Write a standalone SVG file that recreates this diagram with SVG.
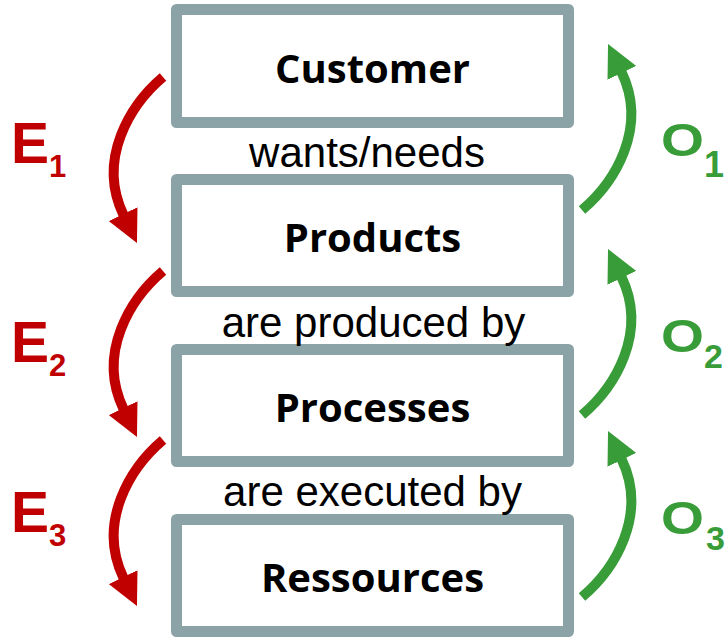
<svg xmlns="http://www.w3.org/2000/svg" width="726" height="638" viewBox="0 0 726 638">
<defs>
<style>
.box{fill:#fff;stroke:#8BA3A6;stroke-width:11;stroke-linejoin:round}
.lbl{font-family:"Open Sans","DejaVu Sans",sans-serif;font-weight:700;font-size:40px;fill:#000;text-anchor:middle}
.rel{font-family:"Liberation Sans",Arial,sans-serif;font-size:42px;fill:#000;text-anchor:middle}
.red{fill:none;stroke:#C00000;stroke-width:10;marker-end:url(#ahR)}
.grn{fill:none;stroke:#389C38;stroke-width:10;marker-end:url(#ahG)}
.e{font-family:"Liberation Sans",Arial,sans-serif;font-weight:700;fill:#C00000}
.o{font-family:"Liberation Sans",Arial,sans-serif;font-weight:700;fill:#389C38}
</style>
<marker id="ahR" markerUnits="userSpaceOnUse" viewBox="0 0 32 32" markerWidth="32" markerHeight="32" refX="1" refY="16" orient="auto"><path d="M0,0 L32,16 L0,32 z" fill="#C00000"/></marker>
<marker id="ahG" markerUnits="userSpaceOnUse" viewBox="0 0 32 32" markerWidth="32" markerHeight="32" refX="1" refY="16" orient="auto"><path d="M0,0 L32,16 L0,32 z" fill="#389C38"/></marker>
</defs>
<rect width="726" height="638" fill="#fff"/>
<g id="customer"><rect class="box" x="176.5" y="9.5" width="392" height="113"/><text class="lbl" x="372.5" y="83">Customer</text></g>
<g id="products"><rect class="box" x="176.5" y="179.5" width="392" height="112"/><text class="lbl" x="372.5" y="252">Products</text></g>
<g id="processes"><rect class="box" x="176.5" y="349.5" width="392" height="112"/><text class="lbl" x="372.5" y="422">Processes</text></g>
<g id="ressources"><rect class="box" x="176.5" y="519.5" width="392" height="112"/><text class="lbl" x="372.5" y="592">Ressources</text></g>
<g id="relations">
<text class="rel" x="367" y="167">wants/needs</text>
<text class="rel" x="373.5" y="337">are produced by</text>
<text class="rel" x="372.5" y="506">are executed by</text>
</g>
<g id="connectors">
<path class="red" d="M163,77 C130.5,104.5 96.5,159 123.5,215"/>
<path class="red" d="M163,271 C130.5,298.5 96.5,353 123.5,409"/>
<path class="red" d="M163,440 C130.5,467.5 96.5,522 123.5,578"/>
<path class="grn" d="M582,210 C614.5,182.5 648.5,128 621.5,72"/>
<path class="grn" d="M582,415 C614.5,387.5 648.5,333 621.5,277"/>
<path class="grn" d="M582,597 C614.5,569.5 648.5,515 621.5,459"/>
</g>
<g id="labels">
<text class="e" x="11" y="163" font-size="57">E</text><text class="e" x="49" y="177" font-size="31">1</text>
<text class="e" x="11" y="362" font-size="57">E</text><text class="e" x="49" y="376" font-size="31">2</text>
<text class="e" x="11" y="532" font-size="57">E</text><text class="e" x="49" y="546" font-size="31">3</text>
<text class="o" x="661" y="156" font-size="47" textLength="43" lengthAdjust="spacingAndGlyphs">O</text><text class="o" x="704" y="177" font-size="36">1</text>
<text class="o" x="661" y="352" font-size="47" textLength="43" lengthAdjust="spacingAndGlyphs">O</text><text class="o" x="704" y="368" font-size="34">2</text>
<text class="o" x="661" y="534" font-size="47" textLength="43" lengthAdjust="spacingAndGlyphs">O</text><text class="o" x="706" y="550" font-size="34">3</text>
</g>
</svg>
